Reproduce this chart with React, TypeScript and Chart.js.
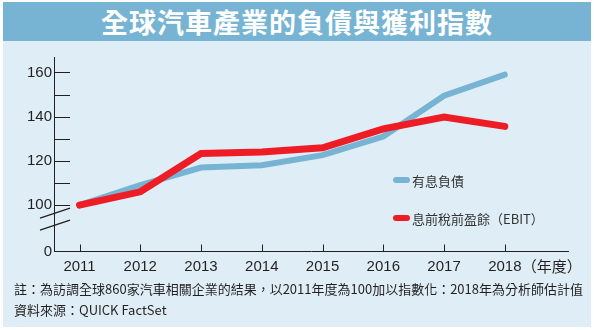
import { useEffect, useRef } from 'react';
import { Chart, registerables } from 'chart.js';

Chart.register(...registerables);

const titleText = '全球汽車產業的負債與獲利指數';
const years = [2011, 2012, 2013, 2014, 2015, 2016, 2017, 2018];
const debtIndex = [100, 109, 117, 118, 122.6, 131, 149.5, 159];
const ebitIndex = [100, 106, 123.3, 124, 125.9, 134.5, 139.8, 135.6];
const seriesNames = ['有息負債', '息前稅前盈餘（EBIT）'];
const yTickValues = [79, 100, 110, 120, 130, 140, 150, 160];
const yMarkTicks = [100, 110, 120, 130, 140, 150, 160];
const xUnitLabel = '（年度）';
const noteLines = [
  '註：為訪調全球860家汽車相關企業的結果，以2011年度為100加以指數化：2018年為分析師估計值',
  '資料來源：QUICK FactSet',
];

const INK = '#231F20';
const BLUE = '#77B4D3';
const RED = '#EE1C25';
const CJK = '"Noto Sans CJK TC", "Noto Sans", sans-serif';
const NUM = '"Liberation Sans", Arial, sans-serif';

const decorPlugin = {
  id: 'decor',
  beforeDatasetsDraw(chart: any) {
    const { ctx, chartArea, scales } = chart;
    const x = scales.x;
    const y = scales.y;
    ctx.save();
    ctx.strokeStyle = INK;
    ctx.lineWidth = 1;
    ctx.beginPath();
    for (const v of yMarkTicks) {
      const py = Math.round(y.getPixelForValue(v)) + 0.5;
      ctx.moveTo(chartArea.left, py);
      ctx.lineTo(chartArea.left + 16, py);
    }
    for (const v of years) {
      const px = Math.round(x.getPixelForValue(v)) + 0.5;
      ctx.moveTo(px, chartArea.bottom);
      ctx.lineTo(px, chartArea.bottom - 7);
    }
    ctx.stroke();
    // axis break marks
    const p100 = y.getPixelForValue(100);
    ctx.lineWidth = 1.3;
    ctx.beginPath();
    ctx.moveTo(chartArea.left - 14, p100 + 13);
    ctx.lineTo(chartArea.left + 16, p100 + 3);
    ctx.moveTo(chartArea.left - 14, p100 + 25);
    ctx.lineTo(chartArea.left + 16, p100 + 15);
    ctx.stroke();
    ctx.restore();
  },
  afterDraw(chart: any) {
    const { ctx, chartArea, scales } = chart;
    const x = scales.x;
    ctx.save();
    ctx.fillStyle = INK;
    ctx.font = `15px ${CJK}`;
    ctx.textAlign = 'left';
    ctx.textBaseline = 'middle';
    ctx.fillText(xUnitLabel, x.getPixelForValue(2018) + 17, chartArea.bottom + 15);
    ctx.restore();
  },
};

export default function App() {
  const ref = useRef<HTMLCanvasElement | null>(null);

  useEffect(() => {
    if (!ref.current) return;
    const chart = new Chart(ref.current, {
      type: 'line',
      data: {
        datasets: [
          {
            label: seriesNames[0],
            data: years.map((yr, i) => ({ x: yr, y: debtIndex[i] })),
            borderColor: BLUE,
            borderWidth: 6,
            pointRadius: 0,
            tension: 0,
            borderCapStyle: 'round',
            borderJoinStyle: 'miter',
            order: 2,
          },
          {
            label: seriesNames[1],
            data: years.map((yr, i) => ({ x: yr, y: ebitIndex[i] })),
            borderColor: RED,
            borderWidth: 7,
            pointRadius: 0,
            tension: 0,
            borderCapStyle: 'round',
            borderJoinStyle: 'miter',
            order: 1,
          },
        ],
      },
      options: {
        responsive: false,
        animation: false,
        layout: { padding: { top: 57, right: 26, left: 0, bottom: 0 } },
        plugins: { legend: { display: false }, tooltip: { enabled: false } },
        scales: {
          x: {
            type: 'linear',
            min: 2010.58,
            max: 2019.04,
            afterBuildTicks: (s: any) => {
              s.ticks = years.map((v) => ({ value: v }));
            },
            afterFit: (s: any) => {
              s.height = 78.5;
            },
            ticks: {
              callback: (v: any) => String(v),
              font: { family: NUM, size: 15 },
              color: INK,
              maxRotation: 0,
              autoSkip: false,
              padding: 6,
            },
            grid: { display: true, drawOnChartArea: false, drawTicks: false },
            border: { display: true, color: INK, width: 1 },
          },
          y: {
            type: 'linear',
            min: 79,
            max: 167,
            afterBuildTicks: (s: any) => {
              s.ticks = yTickValues.map((v) => ({ value: v }));
            },
            afterFit: (s: any) => {
              s.width = 54;
            },
            ticks: {
              callback: (v: any) => (v === 79 ? '0' : v % 20 === 0 ? String(v) : ''),
              font: { family: NUM, size: 15 },
              color: INK,
              autoSkip: false,
              padding: 2,
            },
            grid: { display: true, drawOnChartArea: false, drawTicks: false },
            border: { display: true, color: INK, width: 1 },
          },
        },
      },
      plugins: [decorPlugin],
    } as any);
    return () => chart.destroy();
  }, []);

  return (
    <div style={{ position: 'absolute', left: 0, top: 0, width: 594, height: 330, background: '#fff', overflow: 'hidden' }}>
      <div style={{ position: 'absolute', left: 3, top: 2, width: 588, height: 325, background: '#DFEEF6' }} />
      <div
        style={{
          position: 'absolute', left: 3, top: 2, width: 588, height: 39, background: BLUE,
          color: '#fff', fontFamily: CJK, fontWeight: 700, fontSize: 27, lineHeight: '39px',
          textAlign: 'center', letterSpacing: 1,
        }}
      >
        {titleText}
      </div>
      <canvas ref={ref} width={594} height={330} style={{ position: 'absolute', left: 0, top: 0, width: 594, height: 330 }} />
      {seriesNames.map((name, i) => (
        <div key={name} style={{ position: 'absolute', left: 393, top: i === 0 ? 170 : 208, height: 20, display: 'flex', alignItems: 'center' }}>
          <div style={{ width: 17, height: 6, borderRadius: 3, background: i === 0 ? BLUE : RED, marginRight: 2 }} />
          <span style={{ fontFamily: CJK, fontSize: 13, color: '#333', whiteSpace: 'nowrap' }}>{name}</span>
        </div>
      ))}
      {noteLines.map((t, i) => (
        <div key={i} style={{ position: 'absolute', left: 14, top: i === 0 ? 280 : 301, fontFamily: CJK, fontSize: 13, lineHeight: '18px', color: INK, whiteSpace: 'nowrap' }}>
          {t}
        </div>
      ))}
    </div>
  );
}
